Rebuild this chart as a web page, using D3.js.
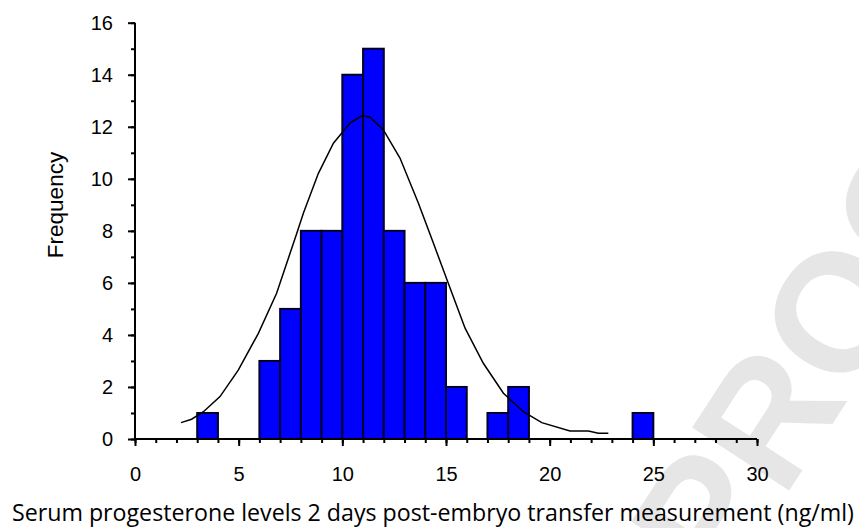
<!DOCTYPE html>
<html>
<head>
<meta charset="utf-8">
<script src="https://cdn.jsdelivr.net/npm/d3@7"></script>
<style>
  body { margin: 0; background: #fff; }
  svg { display: block; }
</style>
</head>
<body>
<div id="chart"></div>
<script>
// histogram bins (lower edge, upper edge, count)
var binStart = [3, 6, 7, 8, 9, 10, 11, 12, 13, 14, 15, 17, 18, 24];
var binEnd   = [4, 7, 8, 9, 10, 11, 12, 13, 14, 15, 16, 18, 19, 25];
var binCount = [1, 3, 5, 8, 8, 14, 15, 8, 6, 6, 2, 1, 2, 1];

// fitted curve
var curveX = [2.22, 2.73, 3.3, 4.1, 4.98, 5.95, 6.83, 7.8, 8.12, 8.84, 9.57, 10.37, 10.94, 11.02,
              11.34, 11.98, 12.78, 13.67, 14.39, 15.11, 15.92, 16.8, 17.77, 18.73, 19.62, 20.98,
              21.87, 22.35, 22.83];
var curveY = [0.63, 0.76, 1.05, 1.63, 2.65, 4.06, 5.6, 7.9, 8.68, 10.2, 11.37, 12.14, 12.42, 12.42,
              12.37, 11.88, 10.8, 9.06, 7.53, 5.99, 4.26, 2.91, 1.76, 1.05, 0.63, 0.31,
              0.31, 0.22, 0.22];

var xTicks = [0, 5, 10, 15, 20, 25, 30];
var yTicks = [0, 2, 4, 6, 8, 10, 12, 14, 16];

var W = 859, H = 528;
var margin = {top: 22.7, right: 102, bottom: 89, left: 135},
    width = W - margin.left - margin.right,
    height = H - margin.top - margin.bottom;

var svg = d3.select("#chart").append("svg")
  .attr("width", W).attr("height", H);

// watermark behind everything
svg.append("text")
  .attr("transform", "translate(722,594) rotate(-57)")
  .attr("font-family", "Liberation Sans, Arial, sans-serif")
  .attr("font-weight", "bold")
  .attr("font-size", "168px")
  .attr("fill", "#e6e6e6")
  .text("PROOF");

var g = svg.append("g")
  .attr("transform", "translate(" + margin.left + "," + margin.top + ")");

var x = d3.scaleLinear().domain([0, 30]).range([0, width]);
var y = d3.scaleLinear().domain([0, 16]).range([height, 0]);

var bins = binStart.map(function(d, i){ return {x0: d, x1: binEnd[i], n: binCount[i]}; });

g.selectAll("rect.bar")
  .data(bins)
  .enter().append("rect")
  .attr("class", "bar")
  .attr("x", function(d){ return x(d.x0); })
  .attr("width", function(d){ return x(d.x1) - x(d.x0); })
  .attr("y", function(d){ return y(d.n); })
  .attr("height", function(d){ return height - y(d.n); })
  .style("fill", "#0000ff")
  .style("stroke", "#000028")
  .style("stroke-width", "2px");

var pts = curveX.map(function(d, i){ return [d, curveY[i]]; });
var line = d3.line()
  .x(function(d){ return x(d[0]); })
  .y(function(d){ return y(d[1]); });

g.append("path")
  .datum(pts)
  .attr("d", line)
  .attr("fill", "none")
  .style("stroke", "#000")
  .style("stroke-width", "1.5px");

var tickFont = "Liberation Sans, Arial, sans-serif";

// minor ticks first
g.append("g")
  .attr("class", "xminor")
  .attr("transform", "translate(0," + height + ")")
  .call(d3.axisBottom(x).tickValues(d3.range(0, 31)).tickSize(4).tickFormat(""));

g.append("g")
  .attr("class", "yminor")
  .call(d3.axisLeft(y).tickValues(d3.range(0, 17)).tickSize(4).tickFormat(""));

// major ticks + labels
g.append("g")
  .attr("class", "xaxis")
  .attr("transform", "translate(0," + height + ")")
  .call(d3.axisBottom(x).tickValues(xTicks).tickSize(7).tickPadding(21));

g.append("g")
  .attr("class", "yaxis")
  .call(d3.axisLeft(y).tickValues(yTicks).tickSize(7).tickPadding(15));

g.selectAll(".xaxis text, .yaxis text")
  .style("font-family", tickFont)
  .style("font-size", "20px")
  .style("fill", "#000");

g.selectAll(".tick line").style("stroke", "#000").style("stroke-width", "2px");
g.selectAll("path.domain").style("stroke", "#000").style("stroke-width", "2px");
g.selectAll(".xminor path.domain, .yminor path.domain").style("stroke", "none");
g.selectAll(".xaxis path.domain").attr("d", "M0,0H" + width);
g.selectAll(".yaxis path.domain").attr("d", "M0," + height + "V0");

// axis titles
svg.append("text")
  .attr("transform", "translate(63,205) rotate(-90)")
  .attr("text-anchor", "middle")
  .attr("font-family", tickFont)
  .attr("font-size", "22.5px")
  .attr("fill", "#000")
  .text("Frequency");

var xl = svg.append("text")
  .attr("x", 12)
  .attr("y", 521)
  .attr("font-family", "Open Sans, Noto Sans, sans-serif")
  .attr("font-size", "20px")
  .attr("fill", "#000")
  .text("Serum progesterone levels 2 days post-embryo transfer measurement (ng/ml)");

// fit the label to the width seen in the picture
var wantWidth = 842;
var got = xl.node().getComputedTextLength();
xl.attr("font-size", (20 * wantWidth / got).toFixed(2) + "px");
</script>
</body>
</html>
